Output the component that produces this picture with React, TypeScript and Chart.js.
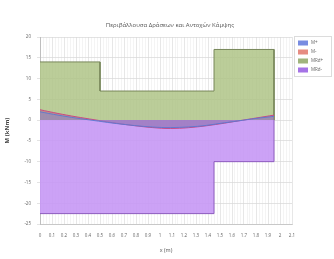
import React, { useEffect, useRef } from "react";
import { Chart, registerables } from "chart.js";

Chart.register(...registerables);

const TITLE = "Περιβάλλουσα Δράσεων και Αντοχών Κάμψης";
const SERIES_NAMES = ["M+", "M-", "MRd+", "MRd-"];

// Action envelopes (kNm) at x (m)
const curveX = [0, 0.15, 0.3, 0.45, 0.6, 0.75, 0.9, 1.05, 1.2, 1.35, 1.5, 1.65, 1.8, 1.95];
const mMinus = [2.5, 1.6, 0.8, 0.1, -0.6, -1.2, -1.7, -2.0, -1.9, -1.5, -0.9, -0.2, 0.5, 1.2];
const mPlus = [2.0, 1.2, 0.5, -0.1, -0.7, -1.2, -1.6, -1.8, -1.7, -1.4, -0.8, -0.2, 0.4, 0.9];

// Resistance envelopes (stepped)
const rdX = [0, 0.5, 0.5, 1.45, 1.45, 1.95, 1.95];
const mRdPlus = [14, 14, 7, 7, 17, 17, 0];
const mRdMinus = [-22.5, -22.5, -22.5, -22.5, -10, -10, 0];

const yTicks = [20, 15, 10, 5, 0, -5, -10, -15, -20, -25];

const COLORS = {
  blue: "rgba(110,140,220,0.45)",
  blueLine: "rgba(90,120,210,0.9)",
  red: "rgba(210,80,120,0.5)",
  redLine: "rgba(200,70,130,0.95)",
  green: "rgba(175,196,135,0.85)",
  greenLine: "rgba(120,135,90,1)",
  purple: "rgba(198,152,245,0.9)",
  purpleLine: "rgba(140,90,190,1)",
};

const FONT = "'Open Sans', 'Liberation Sans', sans-serif";

export default function App() {
  const ref = useRef<HTMLCanvasElement | null>(null);
  useEffect(() => {
    if (!ref.current) return;
    const pts = (xs: number[], ys: number[]) => xs.map((x, i) => ({ x, y: ys[i] }));
    const legendItems = [
      { name: SERIES_NAMES[0], color: "rgba(120,140,225,1)" },
      { name: SERIES_NAMES[1], color: "rgba(230,140,130,1)" },
      { name: SERIES_NAMES[2], color: "rgba(160,180,125,1)" },
      { name: SERIES_NAMES[3], color: "rgba(165,115,230,1)" },
    ];
    const deco = {
      id: "deco",
      afterDraw(chart: any) {
        const ctx = chart.ctx;
        ctx.save();
        ctx.fillStyle = "#555";
        ctx.font = `6px ${FONT}`;
        ctx.textAlign = "center";
        ctx.textBaseline = "middle";
        ctx.fillText(TITLE, 170, 25);
        // legend
        ctx.strokeStyle = "rgba(220,220,220,1)";
        ctx.lineWidth = 1;
        ctx.fillStyle = "#fff";
        ctx.fillRect(294.5, 36.5, 37, 40);
        ctx.strokeRect(294.5, 36.5, 37, 40);
        ctx.font = `4.5px ${FONT}`;
        ctx.textAlign = "left";
        legendItems.forEach((it, i) => {
          const y = 43 + i * 9;
          ctx.fillStyle = it.color;
          ctx.fillRect(298, y - 2.5, 10, 5);
          ctx.fillStyle = "#666";
          ctx.fillText(it.name, 311, y);
        });
        ctx.restore();
      },
    };
    const chart = new Chart(ref.current, {
      type: "line",
      data: {
        datasets: [
          {
            label: SERIES_NAMES[0],
            data: pts(curveX, mPlus),
            borderColor: COLORS.blueLine,
            backgroundColor: COLORS.blue,
            borderWidth: 1,
            fill: "origin",
            pointRadius: 0,
            tension: 0.3,
            order: 0,
          },
          {
            label: SERIES_NAMES[1],
            data: pts(curveX, mMinus),
            borderColor: COLORS.redLine,
            backgroundColor: COLORS.red,
            borderWidth: 1,
            fill: "origin",
            pointRadius: 0,
            tension: 0.3,
            order: 0,
          },
          {
            label: SERIES_NAMES[2],
            data: pts(rdX, mRdPlus),
            borderColor: COLORS.greenLine,
            backgroundColor: COLORS.green,
            borderWidth: 1,
            fill: "origin",
            pointRadius: 0,
            order: 2,
          },
          {
            label: SERIES_NAMES[3],
            data: pts(rdX, mRdMinus),
            borderColor: COLORS.purpleLine,
            backgroundColor: COLORS.purple,
            borderWidth: 1,
            fill: "origin",
            pointRadius: 0,
            order: 1,
          },
        ],
      },
      options: {
        animation: false,
        responsive: false,
        layout: { padding: { top: 37, right: 42, left: 4, bottom: 0 } },
        plugins: { legend: { display: false }, tooltip: { enabled: false } },
        scales: {
          x: {
            type: "linear",
            min: 0,
            max: 2.1,
            ticks: {
              stepSize: 0.1,
              font: { size: 4.5, family: FONT },
              color: "#666",
              maxRotation: 0,
              autoSkip: false,
              padding: 9,
              callback: (v: any) => String(Math.round(Number(v) * 10) / 10),
            },
            grid: { color: "rgba(212,212,212,1)", lineWidth: 0.6, drawTicks: false },
            border: { color: "rgba(200,200,200,1)" },
            title: { display: true, text: "x (m)", font: { size: 5.5, family: FONT }, color: "#555", padding: { top: 4, bottom: 5 } },
            afterFit: (s: any) => { s.height = 35; },
          },
          xMinor: {
            type: "linear",
            position: "bottom",
            min: 0,
            max: 2.1,
            display: true,
            ticks: { display: false, stepSize: 0.025, autoSkip: false },
            grid: { color: "rgba(232,232,232,1)", lineWidth: 0.5, drawTicks: false },
            border: { display: false },
            afterFit: (s: any) => { s.height = 0; },
          },
          y: {
            min: -25,
            max: 20,
            afterBuildTicks: (s: any) => { s.ticks = yTicks.map((v) => ({ value: v })); },
            ticks: { font: { size: 4.5, family: FONT }, color: "#666", padding: 6 },
            grid: { color: "rgba(215,215,215,1)", lineWidth: 0.7, drawTicks: true, tickLength: 3 },
            border: { color: "rgba(190,190,190,1)" },
            title: { display: true, text: "M (kNm)", font: { size: 6, family: FONT, weight: "bold" }, color: "#444", padding: 0 },
            afterFit: (s: any) => { s.width = 36; },
          },
        },
      },
      plugins: [deco],
    });
    return () => chart.destroy();
  }, []);
  return (
    <div style={{ position: "fixed", left: 0, top: 0, width: 334, height: 259, background: "#fff" }}>
      <canvas ref={ref} width={334} height={259} style={{ display: "block" }} />
    </div>
  );
}
